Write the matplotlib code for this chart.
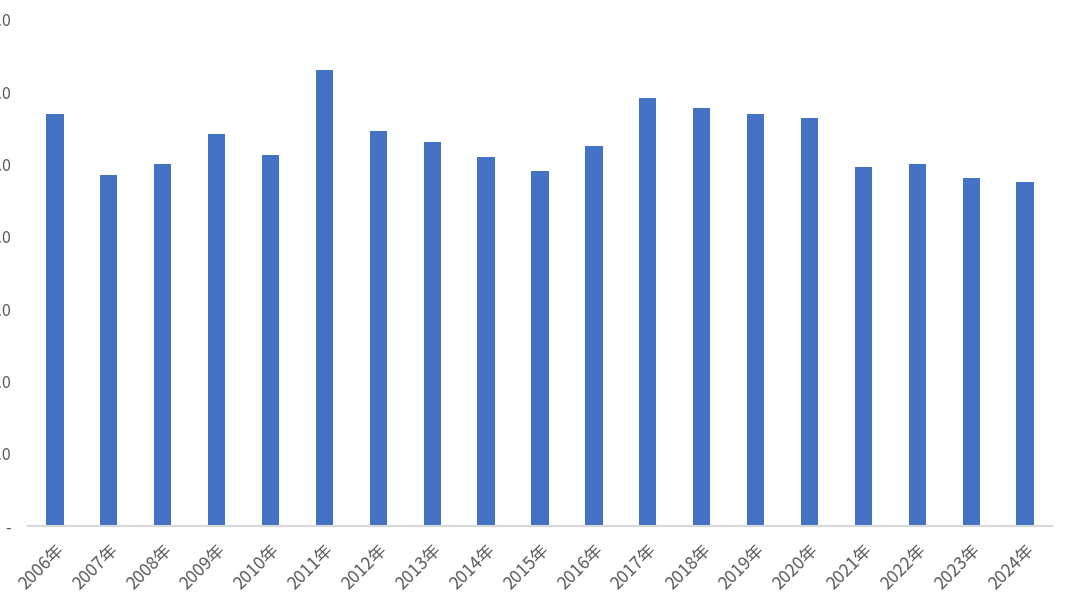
import matplotlib.pyplot as plt
import numpy as np

plt.rcParams['font.family'] = ['Noto Sans CJK SC', 'DejaVu Sans']

years = ['2006年', '2007年', '2008年', '2009年', '2010年', '2011年', '2012年',
         '2013年', '2014年', '2015年', '2016年', '2017年', '2018年', '2019年',
         '2020年', '2021年', '2022年', '2023年', '2024年']
values = [57.0, 48.6, 50.1, 54.2, 51.3, 63.1, 54.6, 53.1, 51.0, 49.1,
          52.6, 59.2, 57.8, 57.0, 56.4, 49.7, 50.1, 48.1, 47.6]
yticks = [0, 10, 20, 30, 40, 50, 60, 70]
ytick_labels = ['-', '10.0', '20.0', '30.0', '40.0', '50.0', '60.0', '70.0']

fig = plt.figure(figsize=(10.67, 5.99), dpi=100)
ax = fig.add_axes([28 / 1067, 73 / 599, 1024 / 1067, 506 / 599])

x = np.arange(len(years))
ax.bar(x, values, width=0.32, color='#4472C4', zorder=2)

ax.set_xlim(-0.5, len(years) - 0.5)
ax.set_ylim(0, 70)
ax.set_yticks(yticks)
ax.set_yticklabels(ytick_labels)
ax.set_xticks(x)
ax.set_xticklabels(years, rotation=45, ha='right', rotation_mode='anchor')

for s in ['top', 'right', 'left']:
    ax.spines[s].set_visible(False)
ax.spines['bottom'].set_color('#D9D9D9')
ax.spines['bottom'].set_linewidth(1.5)
ax.tick_params(axis='both', length=0, colors='#595959')
ax.tick_params(axis='y', pad=12, labelsize=11.5)
ax.tick_params(axis='x', pad=11, labelsize=12.5)
for lbl in ax.get_xticklabels():
    lbl.set_x(lbl.get_position()[0])

fig.savefig('out.png', dpi=100)
